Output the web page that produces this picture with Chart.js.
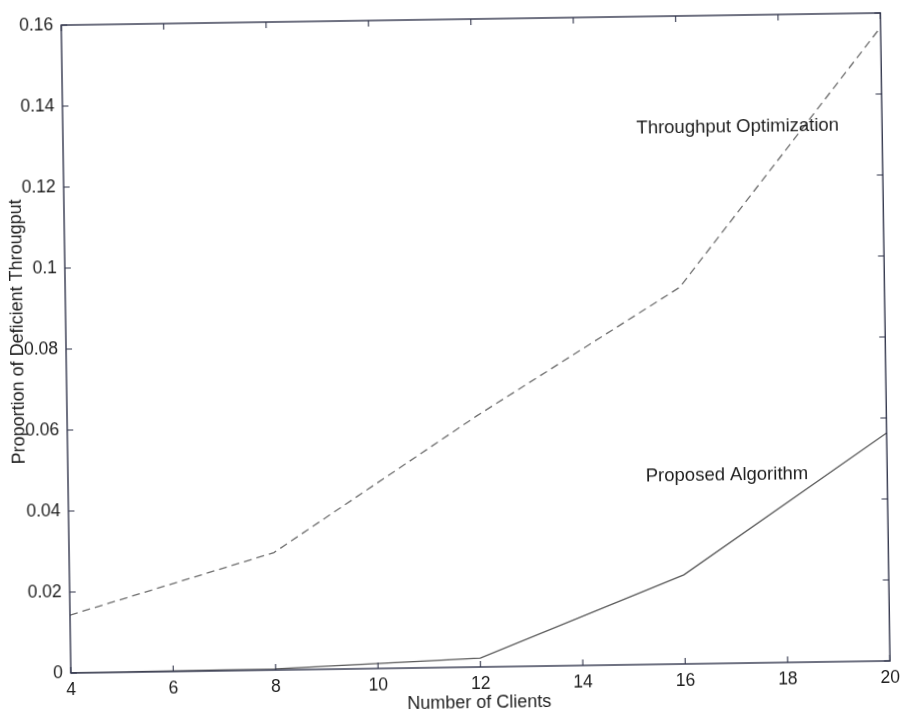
<!DOCTYPE html>
<html>
<head>
<meta charset="utf-8">
<title>Proportion of Deficient Throughput</title>
<script src="https://cdn.jsdelivr.net/npm/chart.js@4/dist/chart.umd.min.js"></script>
<style>
  body { margin: 0; background: #fff; }
  #plot {
    display: block;
    /* the printed figure sits slightly tilted on the page */
    transform: rotate(-0.85deg);
    transform-origin: 477px 343px;
  }
</style>
</head>
<body>
<canvas id="plot" width="902" height="713"></canvas>
<script>
const clients = [4, 8, 12, 16, 20];
const throughputOpt = [0.0143, 0.029, 0.062, 0.093, 0.1565];
const proposedAlg = [0, 0.0003, 0.0022, 0.022, 0.0563];

const xTicks = [4, 6, 8, 10, 12, 14, 16, 18, 20];
const yTicks = [0, 0.02, 0.04, 0.06, 0.08, 0.1, 0.12, 0.14, 0.16];

const FONT = '"Liberation Sans", Arial, sans-serif';
const AXIS_COLOR = '#33374d';
const TEXT_COLOR = '#1e1e1e';

function points(ys) {
  return clients.map((x, i) => ({ x: x, y: ys[i] }));
}

// matlab-style box with inward ticks, axis titles and curve labels
const boxPlugin = {
  id: 'box',
  afterDraw(chart) {
    const ctx = chart.ctx;
    const a = chart.chartArea;
    const xs = chart.scales.x;
    const ys = chart.scales.y;
    const len = 6;

    ctx.save();
    ctx.strokeStyle = AXIS_COLOR;
    ctx.lineWidth = 1.4;
    ctx.strokeRect(a.left, a.top, a.right - a.left, a.bottom - a.top);

    ctx.lineWidth = 1.1;
    ctx.beginPath();
    xTicks.forEach(v => {
      const px = xs.getPixelForValue(v);
      ctx.moveTo(px, a.bottom); ctx.lineTo(px, a.bottom - len);
      ctx.moveTo(px, a.top); ctx.lineTo(px, a.top + len);
    });
    yTicks.forEach(v => {
      const py = ys.getPixelForValue(v);
      ctx.moveTo(a.left, py); ctx.lineTo(a.left + len, py);
      ctx.moveTo(a.right, py); ctx.lineTo(a.right - len, py);
    });
    ctx.stroke();

    ctx.fillStyle = TEXT_COLOR;
    ctx.font = '18px ' + FONT;
    ctx.textAlign = 'center';
    ctx.textBaseline = 'middle';
    ctx.fillText('Number of Clients', 474, 703);

    ctx.save();
    ctx.translate(18, 325);
    ctx.rotate(-Math.PI / 2);
    ctx.fillText('Proportion of Deficient Througput', 0, 0);
    ctx.restore();

    ctx.font = '18.5px ' + FONT;
    ctx.fillText('Throughput Optimization', xs.getPixelForValue(17.18), ys.getPixelForValue(0.1323));
    ctx.fillText('Proposed Algorithm', xs.getPixelForValue(16.87), ys.getPixelForValue(0.0464));
    ctx.restore();
  }
};

const ctx = document.getElementById('plot').getContext('2d');
new Chart(ctx, {
  type: 'line',
  data: {
    datasets: [
      {
        label: 'Throughput Optimization',
        data: points(throughputOpt),
        borderColor: '#6e6e6e',
        borderWidth: 1.3,
        borderDash: [8, 5],
        pointRadius: 0,
        fill: false,
        tension: 0
      },
      {
        label: 'Proposed Algorithm',
        data: points(proposedAlg),
        borderColor: '#5a5a5a',
        borderWidth: 1.3,
        pointRadius: 0,
        fill: false,
        tension: 0
      }
    ]
  },
  options: {
    responsive: false,
    animation: false,
    layout: { padding: { left: 0, top: 19, right: 14, bottom: 0 } },
    scales: {
      x: {
        type: 'linear',
        min: 4,
        max: 20,
        afterBuildTicks: s => { s.ticks = xTicks.map(v => ({ value: v })); },
        afterFit: s => { s.height = 46; },
        grid: { display: false, drawTicks: false },
        border: { display: false },
        ticks: {
          padding: 7,
          maxRotation: 0,
          autoSkip: false,
          color: TEXT_COLOR,
          font: { family: FONT, size: 17.5 },
          callback: v => String(v)
        }
      },
      y: {
        type: 'linear',
        min: 0,
        max: 0.16,
        afterBuildTicks: s => { s.ticks = yTicks.map(v => ({ value: v })); },
        afterFit: s => { s.width = 66; },
        grid: { display: false, drawTicks: false },
        border: { display: false },
        ticks: {
          padding: 8,
          autoSkip: false,
          color: TEXT_COLOR,
          font: { family: FONT, size: 17.5 },
          callback: v => String(Number(v.toFixed(2)))
        }
      }
    },
    plugins: {
      legend: { display: false },
      tooltip: { enabled: false }
    }
  },
  plugins: [boxPlugin]
});
</script>
</body>
</html>
